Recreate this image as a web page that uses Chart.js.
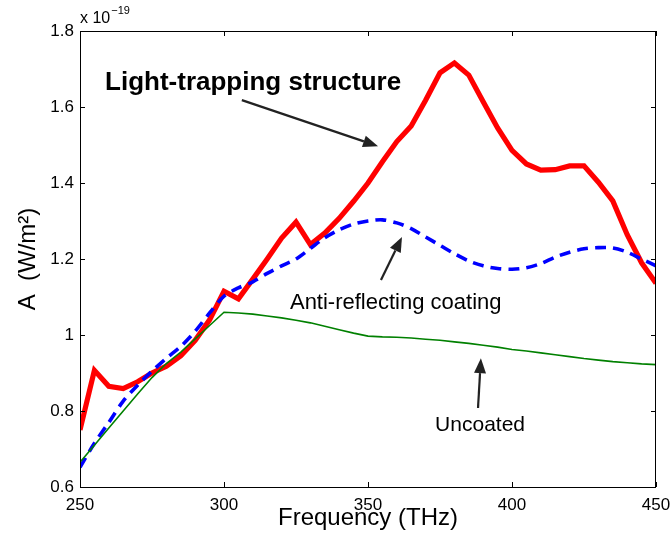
<!DOCTYPE html>
<html>
<head>
<meta charset="utf-8">
<script src="https://cdn.jsdelivr.net/npm/chart.js@4"></script>
<style>
  html, body { margin: 0; padding: 0; background: #fff; }
  #wrap { position: relative; width: 671px; height: 542px; }
</style>
</head>
<body>
<div id="wrap"><canvas id="ch"></canvas></div>
<script>
// Absorbed power vs frequency (values in units of 1e-19 W/m^2)
var FREQ = [250,255,260,265,270,275,280,285,290,295,300,305,310,315,320,325,330,335,340,345,350,
            355,360,365,370,375,380,385,390,395,400,405,410,415,420,425,430,435,440,445,450];
var TRAPPING = [0.750,0.907,0.865,0.859,0.877,0.900,0.918,0.945,0.986,1.040,1.115,1.095,1.147,1.200,1.255,1.297,1.238,1.268,1.307,1.352,1.400,
                1.456,1.509,1.550,1.618,1.690,1.716,1.684,1.614,1.545,1.486,1.450,1.434,1.435,1.445,1.445,1.402,1.353,1.264,1.190,1.136];
var ANTIREF = [0.652,0.715,0.770,0.826,0.868,0.905,0.939,0.970,1.010,1.058,1.102,1.124,1.140,1.162,1.182,1.200,1.228,1.256,1.277,1.292,1.300,
               1.303,1.295,1.280,1.258,1.236,1.214,1.195,1.182,1.175,1.173,1.177,1.188,1.205,1.218,1.227,1.230,1.229,1.218,1.200,1.182];
var UNCOATED = [0.665,0.710,0.755,0.800,0.845,0.888,0.925,0.955,0.990,1.025,1.060,1.058,1.055,1.050,1.045,1.039,1.032,1.023,1.014,1.005,0.997,
                0.995,0.994,0.992,0.989,0.986,0.982,0.978,0.973,0.968,0.962,0.958,0.953,0.948,0.943,0.938,0.934,0.930,0.927,0.924,0.922];
var X_TICKS = [250, 300, 350, 400, 450];
var Y_TICKS = [0.6, 0.8, 1.0, 1.2, 1.4, 1.6, 1.8];

// annotation labels and arrows, in data coordinates
var NOTES = [
  { text: "Light-trapping structure", bold: true, size: 26, x: 258.7, y: 1.645, from: [306.2, 1.618], to: [353.5, 1.497] },
  { text: "Anti-reflecting coating", bold: false, size: 22, x: 322.9, y: 1.068, from: [354.5, 1.145], to: [361.8, 1.258] },
  { text: "Uncoated", bold: false, size: 21, x: 373.3, y: 0.747, from: [388.2, 0.808], to: [389.2, 0.939] }
];

var FONT = "'Liberation Sans', Arial, Helvetica, sans-serif";
Chart.defaults.font.family = FONT;
Chart.defaults.color = "#000";

function pts(ys) { return FREQ.map(function (f, i) { return { x: f, y: ys[i] }; }); }

// box, inward ticks, annotations, exponent label
var matlabPlugin = {
  id: "matlab",
  afterDraw: function (chart) {
    var c = chart.ctx, a = chart.chartArea, sx = chart.scales.x, sy = chart.scales.y, TL = 5;
    c.save();
    c.strokeStyle = "#000"; c.lineWidth = 1;
    c.strokeRect(a.left + 0.5, a.top + 0.5, a.right - a.left - 1, a.bottom - a.top);
    c.beginPath();
    X_TICKS.forEach(function (v) {
      var p = Math.round(sx.getPixelForValue(v)) + 0.5;
      c.moveTo(p, a.bottom); c.lineTo(p, a.bottom - TL);
      c.moveTo(p, a.top); c.lineTo(p, a.top + TL);
    });
    Y_TICKS.forEach(function (v) {
      var p = Math.round(sy.getPixelForValue(v)) + 0.5;
      c.moveTo(a.left, p); c.lineTo(a.left + TL, p);
      c.moveTo(a.right, p); c.lineTo(a.right - TL, p);
    });
    c.stroke();

    // exponent
    c.fillStyle = "#000"; c.textBaseline = "alphabetic"; c.textAlign = "left";
    c.font = "16px " + FONT;
    c.fillText("x 10", a.left, 23);
    var w = c.measureText("x 10").width;
    c.font = "11px " + FONT;
    c.fillText("\u221219", a.left + w + 1, 14);

    // annotations
    NOTES.forEach(function (n) {
      c.font = (n.bold ? "bold " : "") + n.size + "px " + FONT;
      c.fillStyle = "#000";
      c.fillText(n.text, sx.getPixelForValue(n.x), sy.getPixelForValue(n.y));
      var x0 = sx.getPixelForValue(n.from[0]), y0 = sy.getPixelForValue(n.from[1]);
      var x1 = sx.getPixelForValue(n.to[0]), y1 = sy.getPixelForValue(n.to[1]);
      var ang = Math.atan2(y1 - y0, x1 - x0), hl = 15, hw = 6;
      var bx = x1 - hl * Math.cos(ang), by = y1 - hl * Math.sin(ang);
      c.strokeStyle = "#222"; c.fillStyle = "#222"; c.lineWidth = 2.2;
      c.beginPath(); c.moveTo(x0, y0); c.lineTo(bx, by); c.stroke();
      c.beginPath();
      c.moveTo(x1, y1);
      c.lineTo(bx + hw * Math.sin(ang), by - hw * Math.cos(ang));
      c.lineTo(bx - hw * Math.sin(ang), by + hw * Math.cos(ang));
      c.closePath(); c.fill();
    });
    c.restore();
  }
};

new Chart(document.getElementById("ch"), {
  type: "line",
  data: {
    datasets: [
      { data: pts(UNCOATED), borderColor: "#008000", borderWidth: 1.6, pointRadius: 0, tension: 0 },
      { data: pts(ANTIREF), borderColor: "#0000ff", borderWidth: 3.6, borderDash: [11, 7], pointRadius: 0, tension: 0.3 },
      { data: pts(TRAPPING), borderColor: "#ff0000", borderWidth: 5.2, pointRadius: 0, tension: 0 }
    ]
  },
  plugins: [matlabPlugin],
  options: {
    responsive: true, maintainAspectRatio: false, animation: false,
    layout: { padding: { top: 31, right: 15, left: 0, bottom: 0 } },
    plugins: { legend: { display: false }, tooltip: { enabled: false } },
    scales: {
      x: {
        type: "linear", min: 250, max: 450,
        afterBuildTicks: function (s) { s.ticks = X_TICKS.map(function (v) { return { value: v }; }); },
        afterFit: function (s) { s.height = 55; s.paddingLeft = 0; s.paddingRight = 0; },
        grid: { display: false, drawTicks: false },
        border: { display: false },
        ticks: { padding: 8, font: { size: 17 }, maxRotation: 0, callback: function (v) { return String(v); } },
        title: { display: true, text: "Frequency (THz)", font: { size: 24 }, padding: { top: 0, bottom: 9 } }
      },
      y: {
        type: "linear", min: 0.6, max: 1.8,
        afterBuildTicks: function (s) { s.ticks = Y_TICKS.map(function (v) { return { value: v }; }); },
        afterFit: function (s) { s.width = 80; s.paddingTop = 0; s.paddingBottom = 0; },
        grid: { display: false, drawTicks: false },
        border: { display: false },
        ticks: { padding: 6, font: { size: 17 }, callback: function (v) { return String(Math.round(v * 10) / 10); } },
        title: { display: true, text: "A  (W/m\u00b2)", font: { size: 24 }, padding: { top: 14, bottom: 0 } }
      }
    }
  }
});
</script>
</body>
</html>
